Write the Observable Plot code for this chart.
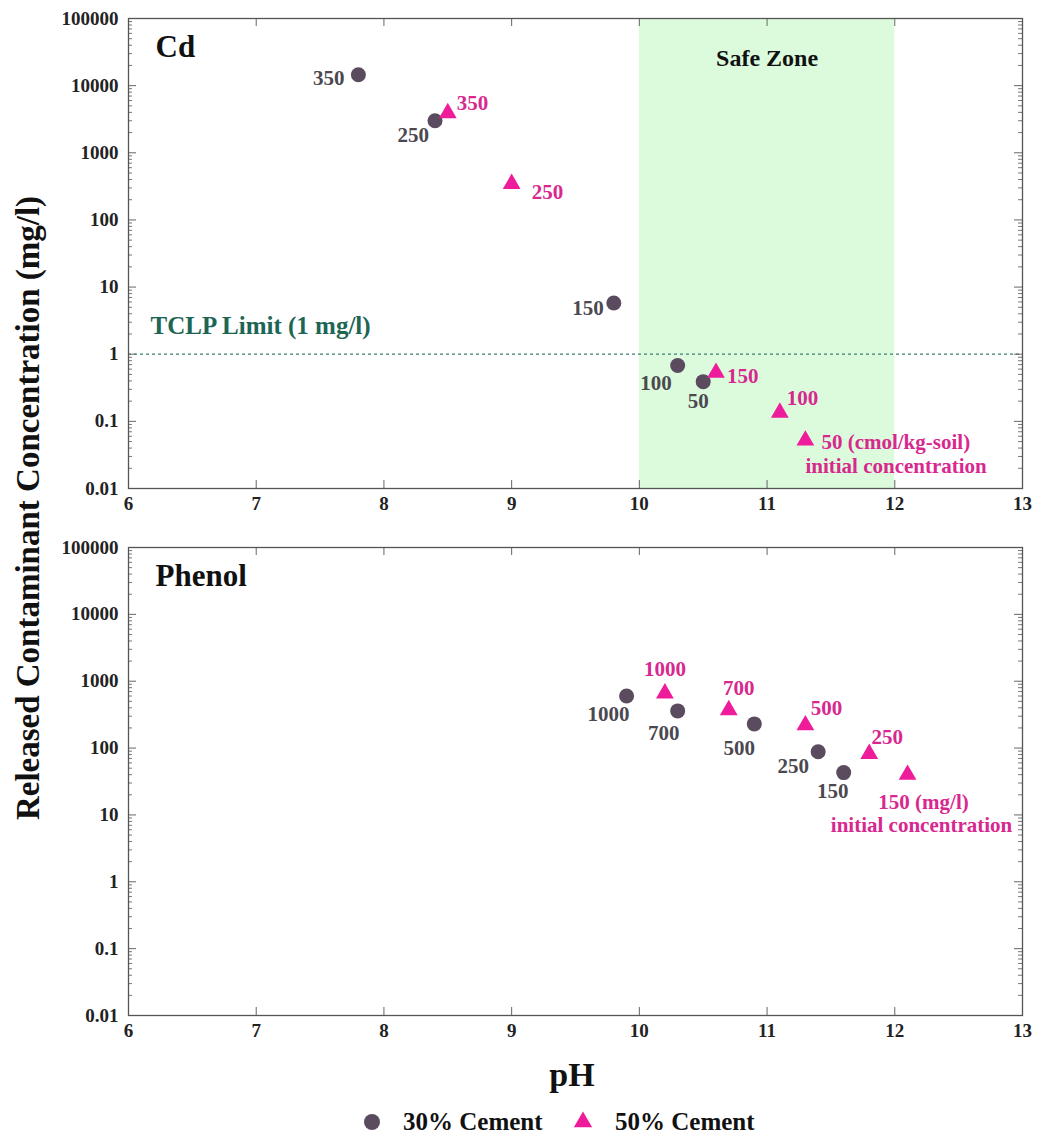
<!DOCTYPE html>
<html>
<head>
<meta charset="utf-8">
<script src="https://cdn.jsdelivr.net/npm/d3@7"></script>
<script src="https://cdn.jsdelivr.net/npm/@observablehq/plot@0.6"></script>
<style>
  body { margin: 0; background: #fff; font-family: "Liberation Serif", "Times New Roman", serif; font-weight: bold; }
  #wrap { position: relative; width: 1037px; height: 1135px; }
  .abs { position: absolute; }
  #ytitle { left: 28px; top: 508px; transform: translate(-50%, -50%) rotate(-90deg); white-space: nowrap; font-size: 33px; color: #111; }
  #xtitle { left: 572px; top: 1075px; transform: translate(-50%, -50%); font-size: 34px; color: #111; }
  #legend { left: 0; top: 1107px; width: 1037px; height: 30px; font-size: 25px; color: #111; }
  #legend .item { position: absolute; top: 0; line-height: 30px; }
</style>
</head>
<body>
<div id="wrap">
  <div id="p1" class="abs" style="left:0;top:0"></div>
  <div id="p2" class="abs" style="left:0;top:529px"></div>
  <div id="ytitle" class="abs">Released Contaminant Concentration (mg/l)</div>
  <div id="xtitle" class="abs">pH</div>
  <div id="legend" class="abs"></div>
</div>
<script>
// ---------------- data ----------------
const xTicks = [6, 7, 8, 9, 10, 11, 12, 13];
const yTicks = [0.01, 0.1, 1, 10, 100, 1000, 10000, 100000];
const seriesNames = ["30% Cement", "50% Cement"];

// Cd panel
const cdPH30 = [7.8, 8.4, 9.8, 10.3, 10.5];
const cdConc30 = [14500, 3000, 5.8, 0.68, 0.39];
const cdLabels30 = ["350", "250", "150", "100", "50"];
const cdPH50 = [8.5, 9.0, 10.6, 11.1, 11.3];
const cdConc50 = [3900, 345, 0.53, 0.135, 0.052];
const cdLabels50 = ["350", "250", "150", "100", "50 (cmol/kg-soil)"];
const safeZone = [10, 12];
const tclpLimit = 1;
const tclpText = "TCLP Limit (1 mg/l)";

// Phenol panel
const phPH30 = [9.9, 10.3, 10.9, 11.4, 11.6];
const phConc30 = [600, 360, 230, 88, 43];
const phLabels30 = ["1000", "700", "500", "250", "150"];
const phPH50 = [10.2, 10.7, 11.3, 11.8, 12.1];
const phConc50 = [660, 370, 220, 82, 40];
const phLabels50 = ["1000", "700", "500", "250", "150 (mg/l)"];
const noteText = "initial concentration";

// ---------------- styles / layout ----------------
const C30 = "#5a4b5e", C50 = "#ee1c9b";
const T30 = "#4b4850", T50 = "#d8288f";
const FONT = "'Liberation Serif', 'Times New Roman', serif";
const W = 1037, ML = 128, MR = 15, MT = 18;
const pxX = (W - ML - MR) / 7;   // px per pH unit

// label offsets [anchor, dx, dy]
const cdOff30 = [["end", -14, 3], ["end", -6, 15], ["end", -10, 5], ["end", -6, 18], ["middle", -5, 20]];
const cdOff50 = [["start", 9, -10], ["start", 20, 8], ["start", 11, 4], ["start", 7, -14], ["start", 16, 2]];
const phOff30 = [["middle", -18, 18], ["middle", -14, 22], ["middle", -15, 24], ["middle", -25, 14], ["middle", -11, 19]];
const phOff50 = [["middle", 0, -24], ["middle", 10, -22], ["middle", 21, -17], ["middle", 18, -17], ["middle", 16, 28]];

function minorTicks() {
  const out = [];
  for (let e = -2; e < 5; e++) for (let m = 2; m <= 9; m++) out.push(m * Math.pow(10, e));
  return out;
}

function labelMarks(ph, conc, labels, offs, color) {
  return labels.map((t, i) => Plot.text([i], {
    x: j => ph[j], y: j => conc[j], text: j => labels[j],
    textAnchor: offs[i][0], dx: offs[i][1], dy: offs[i][2],
    fill: color, fontSize: 21, fontWeight: "bold"
  }));
}

function panel(cfg) {
  const innerH = cfg.height - MT - cfg.mb;
  const majX = 8 / pxX, minX = 4 / pxX;
  const majYf = Math.pow(10, 8 * 7 / innerH);
  const marks = [];
  if (cfg.safe) {
    marks.push(Plot.rect([cfg.safe], {x1: d => d[0], x2: d => d[1], y1: yTicks[0], y2: yTicks[yTicks.length - 1], fill: "#dcfbdc"}));
  }
  if (cfg.tclp != null) {
    marks.push(Plot.ruleY([cfg.tclp], {stroke: "#3b8074", strokeWidth: 1.2, strokeDasharray: "3,3"}));
    marks.push(Plot.text([cfg.tclp], {x: 6, y: d => d, text: () => tclpText, textAnchor: "start", dx: 22, dy: -28, fill: "#1d6655", fontSize: 25, fontWeight: "bold"}));
  }
  if (cfg.safe) {
    marks.push(Plot.text([cfg.safe], {x: d => (d[0] + d[1]) / 2, y: yTicks[yTicks.length - 1], text: () => "Safe Zone", dy: 40, fill: "#111", fontSize: 24, fontWeight: "bold"}));
  }
  // ticks (inward), left/right/top/bottom
  const minors = minorTicks();
  marks.push(Plot.ruleY(yTicks, {x1: 6, x2: 6 + majX, stroke: "#666"}));
  marks.push(Plot.ruleY(yTicks, {x1: 13 - majX, x2: 13, stroke: "#666"}));
  marks.push(Plot.ruleY(minors, {x1: 6, x2: 6 + minX, stroke: "#777"}));
  marks.push(Plot.ruleY(minors, {x1: 13 - minX, x2: 13, stroke: "#777"}));
  marks.push(Plot.ruleX(xTicks, {y1: yTicks[0], y2: yTicks[0] * majYf, stroke: "#666"}));
  marks.push(Plot.ruleX(xTicks, {y1: yTicks[yTicks.length - 1] / majYf, y2: yTicks[yTicks.length - 1], stroke: "#666"}));
  marks.push(Plot.frame({stroke: "#555", strokeWidth: 1.3}));
  // panel name
  marks.push(Plot.text([cfg.name], {x: 6, y: yTicks[yTicks.length - 1], text: d => d, textAnchor: "start", dx: 27, dy: 29, fill: "#111", fontSize: 31, fontWeight: "bold"}));
  // points
  marks.push(Plot.dot(cfg.ph30.map((p, i) => i), {x: i => cfg.ph30[i], y: i => cfg.c30[i], r: 7.5, fill: C30, symbol: "circle"}));
  marks.push(Plot.dot(cfg.ph50.map((p, i) => i), {x: i => cfg.ph50[i], y: i => cfg.c50[i], r: 6.6, fill: C50, symbol: "triangle"}));
  // labels
  marks.push(...labelMarks(cfg.ph30, cfg.c30, cfg.l30, cfg.o30, T30));
  marks.push(...labelMarks(cfg.ph50, cfg.c50, cfg.l50, cfg.o50, T50));
  // note on last 50% point
  const last = cfg.ph50.length - 1;
  marks.push(Plot.text([last], {x: i => cfg.ph50[i], y: i => cfg.c50[i], text: () => noteText, textAnchor: cfg.note[0], dx: cfg.note[1], dy: cfg.note[2], fill: T50, fontSize: 21, fontWeight: "bold"}));

  return Plot.plot({
    width: W, height: cfg.height,
    marginLeft: ML, marginRight: MR, marginTop: MT, marginBottom: cfg.mb,
    style: {fontFamily: FONT, fontSize: "19px", fontWeight: "bold", color: "#222", background: "transparent"},
    x: {domain: [6, 13], ticks: xTicks, tickSize: 0, tickPadding: 8, tickFormat: d => String(d), label: null},
    y: {type: "log", domain: [yTicks[0], yTicks[yTicks.length - 1]], ticks: yTicks, tickSize: 0, tickPadding: 10, tickFormat: d => String(d), label: null},
    marks
  });
}

document.getElementById("p1").appendChild(panel({
  height: 529, mb: 41, name: "Cd",
  ph30: cdPH30, c30: cdConc30, l30: cdLabels30, o30: cdOff30,
  ph50: cdPH50, c50: cdConc50, l50: cdLabels50, o50: cdOff50,
  safe: safeZone, tclp: tclpLimit, note: ["start", 0, 26]
}));
document.getElementById("p2").appendChild(panel({
  height: 526, mb: 40, name: "Phenol",
  ph30: phPH30, c30: phConc30, l30: phLabels30, o30: phOff30,
  ph50: phPH50, c50: phConc50, l50: phLabels50, o50: phOff50,
  safe: null, tclp: null, note: ["middle", 14, 51]
}));

// legend
const leg = document.getElementById("legend");
const sym = d3.select(leg).append("svg").attr("width", W).attr("height", 30).style("position", "absolute").style("left", 0).style("top", 0);
sym.append("path").attr("d", d3.symbol(d3.symbolCircle, Math.PI * 8 * 8)()).attr("transform", "translate(372,15)").attr("fill", C30);
sym.append("path").attr("d", d3.symbol(d3.symbolTriangle, Math.PI * 6.8 * 6.8)()).attr("transform", "translate(583,15)").attr("fill", C50);
[[403, seriesNames[0]], [615, seriesNames[1]]].forEach(([x, t]) => {
  const s = document.createElement("div");
  s.className = "item"; s.style.left = x + "px"; s.textContent = t;
  leg.appendChild(s);
});
</script>
</body>
</html>
